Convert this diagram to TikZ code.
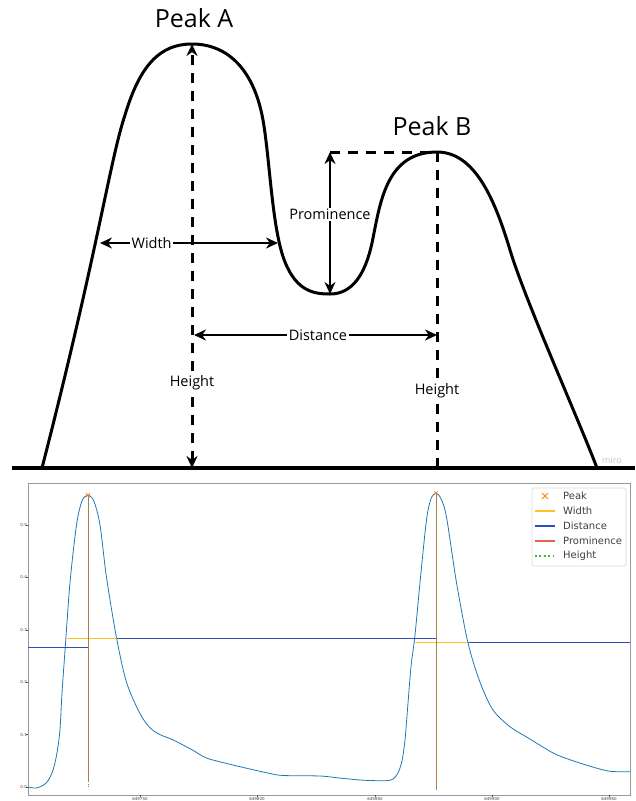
\documentclass[tikz,border=0pt]{standalone}
\usepackage{fontspec}
\setmainfont{Open Sans}
\newfontfamily\mplfont{DejaVu Sans}
\usetikzlibrary{arrows.meta}

\definecolor{curveblue}{HTML}{1F77B4}
\definecolor{peakorange}{HTML}{FF7F0E}
\definecolor{widthgold}{HTML}{FFC020}
\definecolor{distblue}{HTML}{2E4DB5}
\definecolor{promred}{HTML}{E8604C}
\definecolor{heightgreen}{HTML}{2CC03C}

\tikzset{
  mountain/.style={line width=3pt, line join=round, line cap=round},
  dimline/.style={line width=2.5pt, {Stealth[length=12pt,width=11pt]}-{Stealth[length=12pt,width=11pt]}},
  guide/.style={line width=3pt, dash pattern=on 10pt off 8pt},
  dimlabel/.style={fill=white, inner sep=1.5pt, font=\fontsize{14.5}{16}\selectfont},
  peaklabel/.style={font=\fontsize{25}{28}\selectfont},
  ticklabel/.style={font=\mplfont\fontsize{4}{4.5}\selectfont, text=black!75},
  legendtext/.style={font=\mplfont\fontsize{10}{12}\selectfont, text=black!75, anchor=west, inner sep=0pt},
}

\begin{document}
\begin{tikzpicture}[x=1pt, y=-1pt]
  \useasboundingbox (0,0) rectangle (635,801);

  % Sketch: points
  \coordinate (peakA) at (192,44);
  \coordinate (baseA) at (192,468);
  \coordinate (peakB) at (437,152);
  \coordinate (baseB) at (437,468);
  \coordinate (valley) at (330,294);
  \coordinate (promTop) at (330,152);
  \coordinate (widthL) at (100,243);
  \coordinate (widthR) at (278,243);
  \coordinate (distL) at (194,335);
  \coordinate (distR) at (437,335);
  \coordinate (groundL) at (12,468);
  \coordinate (groundR) at (635,468);

  % Sketch: ground and mountains
  \draw[mountain, line width=3.5pt, line cap=butt] (groundL) -- (groundR);
  \draw[mountain] (42,468) .. controls (98,250) and (110,160) .. (125,115)
    .. controls (140,65) and (160,44) .. (peakA)
    .. controls (228,44) and (254,70) .. (263,120)
    .. controls (270,160) and (272,230) .. (285,262)
    .. controls (297,292) and (315,294) .. (valley)
    .. controls (352,294) and (365,275) .. (372,243)
    .. controls (380,205) and (385,152) .. (peakB)
    .. controls (475,152) and (495,200) .. (510,250)
    .. controls (525,300) and (578,418) .. (597,468);

  % Sketch: guides and dimensions
  \draw[guide, {Stealth[length=12pt,width=11pt]}-{Stealth[length=12pt,width=11pt]}]
    (baseA) -- node[dimlabel, pos=0.2] {Height} (peakA);
  \draw[guide] (peakB) -- node[dimlabel, pos=0.756] {Height} (baseB);
  \draw[guide] (promTop) -- (peakB);
  \draw[dimline] (widthL) -- node[dimlabel, pos=0.29] {Width} (widthR);
  \draw[dimline] (valley) -- node[dimlabel, pos=0.56] {Prominence} (promTop);
  \draw[dimline] (distL) -- node[dimlabel, pos=0.51] {Distance} (distR);

  \node[peaklabel] (labelA) at (194,18) {Peak A};
  \node[peaklabel] (labelB) at (432,126) {Peak B};
  \node[font=\fontsize{9}{10}\selectfont, text=gray!45] (miro) at (612,460) {miro};

  % Plot: axes
  \draw[gray!80, line width=0.8pt] (28,483) rectangle (630,795);
  \foreach \px/\lab in {140/649750, 257/649800, 375/649850, 492/649900, 609/649950} {
    \draw[black!70, line width=0.4pt] (\px,795) -- (\px,797);
    \node[ticklabel, inner sep=0pt] at (\px,798.8) {\lab};
  }

  \begin{scope}[yshift=-787pt, y=524pt]
    \foreach \v in {0.0,0.1,0.2,0.3,0.4,0.5} {
      \draw[black!70, line width=0.4pt] (26,\v) -- (28,\v) node[left, ticklabel, inner sep=1pt] {\v};
    }

    % Signal
    \draw[curveblue, line width=0.8pt, line join=round] plot[smooth, tension=0.5] coordinates {
      (28,0.0) (36,-0.002) (43,0.003) (48,0.012) (53,0.032) (57,0.065) (60,0.11)
      (62,0.18) (65,0.26) (70,0.39) (76.5,0.50) (82,0.546) (88,0.557) (94,0.545)
      (100,0.50) (106.5,0.40) (116.5,0.285) (126.5,0.20) (140,0.14) (150,0.113)
      (160,0.100) (173,0.090) (193,0.070) (207,0.055) (233,0.042) (267,0.027)
      (283,0.022) (320,0.021) (340,0.017) (363,0.013) (385,0.012) (393,0.015)
      (398,0.027) (402,0.05) (405,0.09) (408,0.16) (411,0.23) (415,0.29) (420,0.39)
      (426.5,0.51) (431,0.55) (436,0.561) (441,0.55) (446.5,0.515) (456.5,0.39)
      (468,0.275) (480,0.20) (493,0.147) (510,0.115) (527,0.095) (553,0.065)
      (570,0.052) (593,0.038) (610,0.030) (630,0.029)};

    % Distance, width, prominence, height
    \draw[distblue, line width=0.9pt] (28,0.267) -- (88,0.267);
    \draw[distblue, line width=0.9pt] (88,0.284) -- (436,0.284);
    \draw[distblue, line width=0.9pt] (436,0.276) -- (630,0.276);
    \draw[widthgold, line width=0.9pt] (67,0.284) -- (117,0.284);
    \draw[widthgold, line width=0.9pt] (415,0.276) -- (468,0.276);
    \foreach \px/\top/\low in {88/0.557/0.01, 436/0.561/-0.006} {
      \draw[promred, line width=0.8pt] (\px,\top) -- (\px,\low);
      \draw[heightgreen, line width=0.7pt, dash pattern=on 0.7pt off 2pt] (\px,0) -- (\px,\top);
      \draw[peakorange, line width=0.6pt] ([shift={(-2pt,-2pt)}]\px,\top) -- ([shift={(2pt,2pt)}]\px,\top)
        ([shift={(-2pt,2pt)}]\px,\top) -- ([shift={(2pt,-2pt)}]\px,\top);
    }
  \end{scope}

  % Plot: legend
  \draw[gray!30, fill=white, rounded corners=2pt, line width=0.6pt] (532,488) rectangle (626,566);
  \draw[peakorange, line width=0.9pt] (542,493) -- (548,499) (542,499) -- (548,493);
  \node[legendtext] (legPeak) at (563,496) {Peak};
  \foreach \y/\col/\name in {511/widthgold/Width, 526/distblue/Distance, 541/promred/Prominence} {
    \draw[\col, line width=1.5pt] (535,\y) -- (555,\y);
    \node[legendtext] (leg\name) at (563,\y) {\name};
  }
  \draw[heightgreen, line width=1.8pt, dash pattern=on 1.8pt off 2.6pt] (535,556) -- (555,556);
  \node[legendtext] (legHeight) at (563,556) {Height};
\end{tikzpicture}
\end{document}
